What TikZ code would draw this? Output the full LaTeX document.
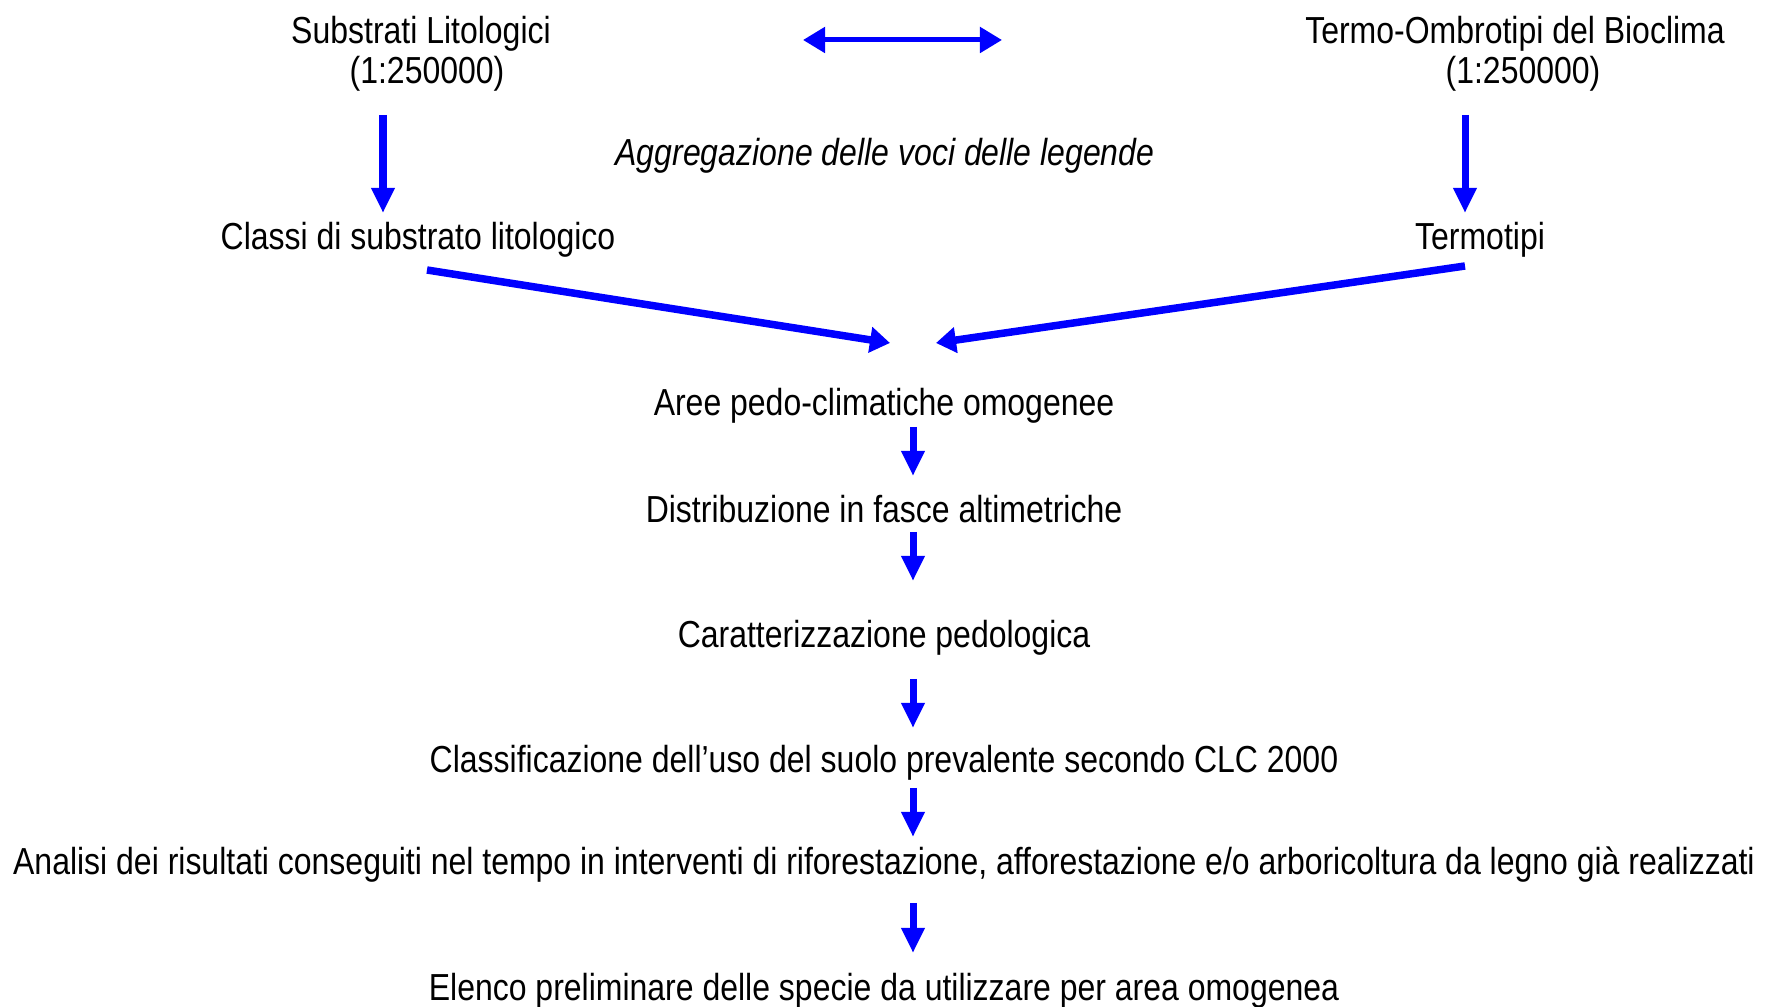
\documentclass[tikz,border=0pt]{standalone}
\usepackage{fontspec}
\setmainfont[FakeStretch=0.85]{Liberation Sans}
\usetikzlibrary{arrows.meta}
\begin{document}
\begin{tikzpicture}[x=0.01cm,y=-0.01cm,line join=round,
		>={Triangle[length=0.25cm,width=0.22cm]},
		testo/.style={anchor=base,inner sep=0pt,font=\fontsize{10.7}{12}\selectfont},
		freccia/.style={->,blue,line width=0.07cm},
		obliqua/.style={-{Triangle[length=0.2cm,width=0.25cm]},blue,line width=0.075cm}]
	\useasboundingbox (0,0) rectangle (1771,1007);
	% testi
	\path
	(421,44) node[testo] (sub) {Substrati Litologici}
	(427,84) node[testo] (subscala) {(1:250000)}
	(1515,44) node[testo] (termo) {Termo-Ombrotipi del Bioclima}
	(1523,84) node[testo] (termoscala) {(1:250000)}
	(885,166) node[testo,font=\fontsize{10.7}{12}\selectfont\itshape] (aggr) {Aggregazione delle voci delle legende}
	(418,250) node[testo] (classi) {Classi di substrato litologico}
	(1480,250) node[testo] (termotipi) {Termotipi}
	(884,416) node[testo] (aree) {Aree pedo-climatiche omogenee}
	(884,523) node[testo] (distr) {Distribuzione in fasce altimetriche}
	(884,648) node[testo] (caratt) {Caratterizzazione pedologica}
	(884,773) node[testo] (clc) {Classificazione dell’uso del suolo prevalente secondo CLC 2000}
	(884,875) node[testo] (analisi) {Analisi dei risultati conseguiti nel tempo in interventi di riforestazione, afforestazione e/o arboricoltura da legno già realizzati}
	(884,1001) node[testo] (elenco) {Elenco preliminare delle specie da utilizzare per area omogenea};
	% estremi delle frecce
	\path
	(803,40) coordinate (D1) (1002,40) coordinate (D2)
	(383,115) coordinate (S1) (383,213) coordinate (S2)
	(1465,115) coordinate (T1) (1465,213) coordinate (T2)
	(427,270) coordinate (L1) (890,343) coordinate (L2)
	(1465,266) coordinate (R1) (936,343) coordinate (R2);
	\draw[<->,blue,line width=0.05cm,>={Triangle[length=0.22cm,width=0.25cm]}] (D1)--(D2);
	\draw[freccia] (S1)--(S2);
	\draw[freccia] (T1)--(T2);
	\draw[obliqua] (L1)--(L2);
	\draw[obliqua] (R1)--(R2);
	\foreach \a/\b in {427/476,532/581,679/728,788/837,903/953}{
		\draw[freccia] (913,\a)--(913,\b);
	};
\end{tikzpicture}
\end{document}
